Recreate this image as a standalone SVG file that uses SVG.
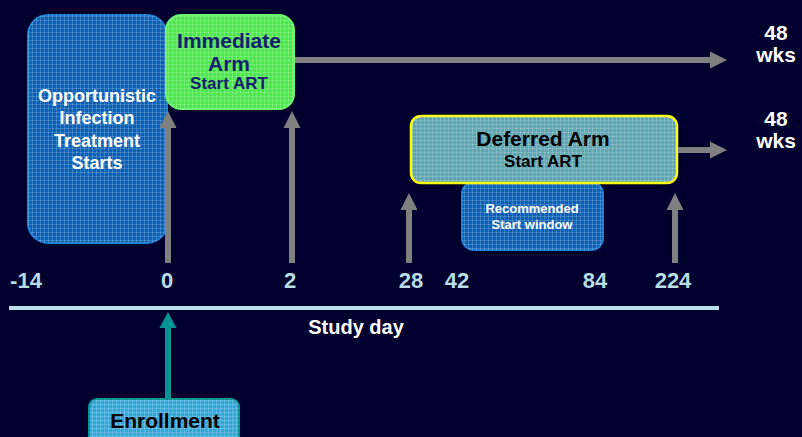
<svg xmlns="http://www.w3.org/2000/svg" width="802" height="437" viewBox="0 0 802 437">
<style>
text{font-family:"Liberation Sans",Arial,sans-serif;font-weight:bold;text-anchor:middle}
.wt{fill:#ffffff}
.ax{fill:#b8dde4;font-size:22px}
.gl{stroke:#808080;stroke-width:6;fill:none}
.gh{fill:#808080}
.tex{fill:url(#grid)}
</style>
<defs>
<pattern id="grid" width="4" height="4" patternUnits="userSpaceOnUse">
<path d="M0 0.5H4M0.5 0V4" stroke="#ffffff" stroke-opacity="0.18" stroke-width="1"/>
</pattern>
</defs>
<rect width="802" height="437" fill="#00002e"/>

<g id="oi-treatment">
<rect x="28" y="15" width="139" height="228" rx="20" fill="#0a5fb6" stroke="#1a80d6" stroke-width="2"/>
<rect class="tex" x="28" y="15" width="139" height="228" rx="20"/>
<text class="wt" x="97" y="102" font-size="18">Opportunistic</text>
<text class="wt" x="97" y="124" font-size="18">Infection</text>
<text class="wt" x="97" y="147" font-size="18">Treatment</text>
<text class="wt" x="97" y="169" font-size="18">Starts</text>
</g>

<g id="immediate-arm">
<rect x="166" y="15" width="128" height="94" rx="15" fill="#4be84b" stroke="#66f566" stroke-width="2"/>
<rect class="tex" x="166" y="15" width="128" height="94" rx="15"/>
<text x="229" y="48" font-size="21" fill="#16206e">Immediate</text>
<text x="229" y="71" font-size="21" fill="#16206e">Arm</text>
<text x="229" y="89" font-size="17" fill="#16206e">Start ART</text>
</g>

<g id="recommended-window">
<rect x="462" y="182" width="141" height="68" rx="12" fill="#0a5fb6" stroke="#1a80d6" stroke-width="2"/>
<rect class="tex" x="462" y="182" width="141" height="68" rx="12"/>
<text class="wt" x="532" y="213" font-size="13">Recommended</text>
<text class="wt" x="532" y="229" font-size="13">Start window</text>
</g>

<g id="deferred-arm">
<rect x="411" y="116" width="266" height="67" rx="10" fill="#5ea6b2" stroke="#ffff00" stroke-width="2.5"/>
<rect class="tex" x="411" y="116" width="266" height="67" rx="10"/>
<text x="543" y="146" font-size="21" fill="#000000">Deferred Arm</text>
<text x="543" y="167" font-size="17" fill="#000000">Start ART</text>
</g>

<g id="enrollment">
<rect x="89" y="399" width="150" height="50" rx="8" fill="#35a6d8" stroke="#009494" stroke-width="2"/>
<rect class="tex" x="89" y="399" width="150" height="50" rx="8"/>
<text x="165" y="428" font-size="21" fill="#000000">Enrollment</text>
</g>

<g id="connectors">
<line class="gl" x1="295" y1="60" x2="712" y2="60"/>
<polygon class="gh" points="710,51.5 727,60 710,68.5"/>
<line class="gl" x1="678" y1="150" x2="712" y2="150"/>
<polygon class="gh" points="710,141.5 727,150 710,158.5"/>
<line class="gl" x1="168" y1="126" x2="168" y2="263"/>
<polygon class="gh" points="159.5,128 168,111 176.5,128"/>
<line class="gl" x1="292" y1="126" x2="292" y2="263"/>
<polygon class="gh" points="283.5,128 292,111 300.5,128"/>
<line class="gl" x1="409" y1="208" x2="409" y2="263"/>
<polygon class="gh" points="400.5,210 409,193 417.5,210"/>
<line class="gl" x1="675" y1="208" x2="675" y2="263"/>
<polygon class="gh" points="666.5,210 675,193 683.5,210"/>
<line x1="168" y1="326" x2="168" y2="398" stroke="#009494" stroke-width="6"/>
<polygon points="159.5,328 168,312 176.5,328" fill="#009494"/>
</g>

<g id="axis">
<rect x="9" y="306" width="710" height="4" fill="#b8e0e6"/>
<text class="ax" x="26" y="288">-14</text>
<text class="ax" x="167" y="288">0</text>
<text class="ax" x="290" y="288">2</text>
<text class="ax" x="411" y="288">28</text>
<text class="ax" x="457" y="288">42</text>
<text class="ax" x="595" y="288">84</text>
<text class="ax" x="673" y="288">224</text>
<text class="wt" x="356" y="334" font-size="20">Study day</text>
</g>

<g id="end-labels">
<text class="wt" x="776" y="40" font-size="21">48</text>
<text class="wt" x="776" y="62" font-size="21">wks</text>
<text class="wt" x="776" y="126" font-size="21">48</text>
<text class="wt" x="776" y="148" font-size="21">wks</text>
</g>
</svg>
